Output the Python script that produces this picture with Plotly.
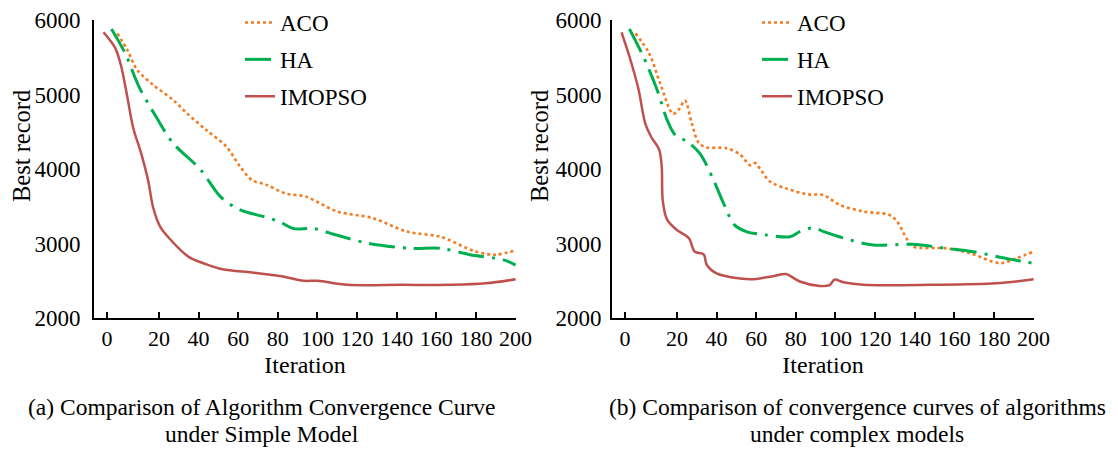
import plotly.graph_objects as go

# the page adds an 8px body margin, so the figure is 16px smaller than the window
W, H = 1102, 443
OFF = 8

# ---------------- data ----------------
# (a) simple model
iter_a_aco = [-1, 4, 9, 17, 27, 34, 44, 54, 61, 67, 74, 84, 94, 110, 128, 145, 162, 180, 190, 200]
aco_a = [5820, 5600, 5330, 5130, 4930, 4750, 4520, 4300, 4030, 3850, 3790, 3670, 3630, 3430, 3340, 3160, 3090, 2890, 2850, 2910]

iter_a_ha = [-4, 3, 10, 19, 27, 41, 51, 61, 73, 81, 88, 98, 110, 126, 147, 162, 177, 194, 200]
ha_a = [5880, 5550, 5100, 4680, 4350, 3990, 3630, 3450, 3360, 3290, 3200, 3200, 3110, 3000, 2935, 2935, 2850, 2780, 2710]

iter_a_imopso = [-8, -2, 1, 4, 7, 11, 14.5, 17, 20.5, 25.5, 35, 44, 52, 67, 81, 93, 100, 115, 143, 168, 185, 200]
imopso_a = [5835, 5620, 5370, 4970, 4550, 4210, 3850, 3490, 3230, 3060, 2820, 2720, 2655, 2610, 2565, 2500, 2500, 2445, 2445, 2445, 2465, 2520]

# (b) complex model
iter_b_aco = [-1, 6, 11.5, 18, 21, 24, 27.5, 31, 35, 45, 52, 57, 59.5, 62, 67, 75, 86, 94, 102, 114, 127, 131, 136, 139, 156, 168, 183, 191, 200]
aco_b = [5820, 5550, 5150, 4740, 4800, 4920, 4610, 4350, 4290, 4280, 4190, 4050, 4080, 4000, 3830, 3740, 3660, 3650, 3520, 3430, 3385, 3300, 3060, 2960, 2935, 2870, 2735, 2800, 2890]

iter_b_ha = [-4, 3, 10, 15, 19, 25, 31.5, 38.5, 43.5, 49, 55, 65, 77, 82, 89, 94, 102, 107, 119, 139, 156, 169.5, 188, 200]
ha_b = [5880, 5510, 5060, 4660, 4460, 4370, 4210, 3850, 3540, 3250, 3160, 3115, 3090, 3160, 3210, 3160, 3090, 3050, 2980, 2990, 2935, 2890, 2790, 2735]

iter_b_imopso = [-8, -4, 0.5, 4, 7, 11, 12.3, 12.8, 15, 20, 26, 29, 33.5, 35, 40, 57, 69, 75, 82, 92, 97, 99.5, 104, 114, 148, 181, 200]
imopso_b = [5835, 5510, 5080, 4610, 4430, 4260, 4030, 3580, 3320, 3180, 3070, 2890, 2855, 2715, 2600, 2520, 2565, 2590, 2490, 2430, 2440, 2515, 2480, 2445, 2445, 2465, 2520]

series_names = ["ACO", "HA", "IMOPSO"]
tick_vals = [-6.2, 20, 40, 60, 80, 100, 120, 140, 160, 180, 200]
tick_text = ["0", "20", "40", "60", "80", "100", "120", "140", "160", "180", "200"]
y_ticks = [2000, 3000, 4000, 5000, 6000]
captions_a = ["(a) Comparison of Algorithm Convergence Curve", "under Simple Model"]
captions_b = ["(b) Comparison of convergence curves of algorithms", "under complex models"]

# ---------------- styles ----------------
FONT = "'Liberation Serif', 'Times New Roman', serif"
C_ACO, C_HA, C_IMO = "#F47B20", "#00B050", "#C0504D"
styles = {
    "ACO": dict(color=C_ACO, width=2.6, dash="3px,3px"),
    "HA": dict(color=C_HA, width=3, dash="26px,8px,3px,8px"),
    "IMOPSO": dict(color=C_IMO, width=2.5, dash="solid"),
}

def px_x(p):
    return (p - OFF) / W

def px_y(p):
    return 1 - (p - OFF) / H

fig = go.Figure()

panels = [
    ("x", "y", "legend", [(iter_a_aco, aco_a), (iter_a_ha, ha_a), (iter_a_imopso, imopso_a)]),
    ("x2", "y2", "legend2", [(iter_b_aco, aco_b), (iter_b_ha, ha_b), (iter_b_imopso, imopso_b)]),
]
for xa, ya, leg, data in panels:
    for name, (xs, ys) in zip(series_names, data):
        fig.add_trace(go.Scatter(
            x=xs, y=ys, name=name, mode="lines",
            line=dict(shape="spline", smoothing=0.9, **styles[name]),
            xaxis=xa, yaxis=ya, legend=leg, legendgroup=leg + name,
        ))

x_common = dict(
    range=[-12.8, 200.2], tickmode="array", tickvals=tick_vals, ticktext=tick_text,
    showline=True, linecolor="black", linewidth=2, ticks="inside", ticklen=6,
    tickwidth=1.5, tickcolor="black", showgrid=False, zeroline=False, automargin=False,
    tickfont=dict(family=FONT, size=22, color="black"),
    title=dict(text="Iteration", font=dict(family=FONT, size=24, color="black"), standoff=6),
)
y_common = dict(
    range=[2000, 6000], tickmode="array", tickvals=y_ticks, automargin=False,
    showline=True, linecolor="black", linewidth=2, ticks="", showgrid=False,
    zeroline=False, tickfont=dict(family=FONT, size=23, color="black"),
)

yd = [px_y(318), px_y(20)]
fig.update_layout(
    width=W, height=H, autosize=False,
    margin=dict(l=0, r=0, t=0, b=0, autoexpand=False),
    paper_bgcolor="white", plot_bgcolor="white",
    font=dict(family=FONT, color="black"),
    xaxis=dict(domain=[px_x(94), px_x(516)], anchor="y", **x_common),
    yaxis=dict(domain=yd, anchor="x", ticklabelstandoff=7, **y_common),
    xaxis2=dict(domain=[px_x(612), px_x(1034)], anchor="y2", **x_common),
    yaxis2=dict(domain=yd, anchor="x2", ticklabelstandoff=4, **y_common),
    legend=dict(x=px_x(240), y=px_y(1), xanchor="left", yanchor="top",
                bgcolor="rgba(0,0,0,0)", font=dict(family=FONT, size=23, color="black"),
                tracegroupgap=4, borderwidth=0),
    legend2=dict(x=px_x(757), y=px_y(1), xanchor="left", yanchor="top",
                 bgcolor="rgba(0,0,0,0)", font=dict(family=FONT, size=23, color="black"),
                 tracegroupgap=4, borderwidth=0),
    showlegend=True,
)

ann = []
for xc in (21, 539):
    ann.append(dict(text="Best record", x=px_x(xc), y=px_y(146), xref="paper", yref="paper",
                    showarrow=False, textangle=-90, xanchor="center", yanchor="middle",
                    font=dict(family=FONT, size=24.5, color="black")))
for xc, lines in ((262, captions_a), (857, captions_b)):
    for yc, t in zip((407, 434), lines):
        ann.append(dict(text=t, x=px_x(xc), y=px_y(yc), xref="paper", yref="paper",
                        showarrow=False, xanchor="center", yanchor="middle",
                        font=dict(family=FONT, size=23.5, color="black")))
fig.update_layout(annotations=ann)

fig.write_html("out.html")
